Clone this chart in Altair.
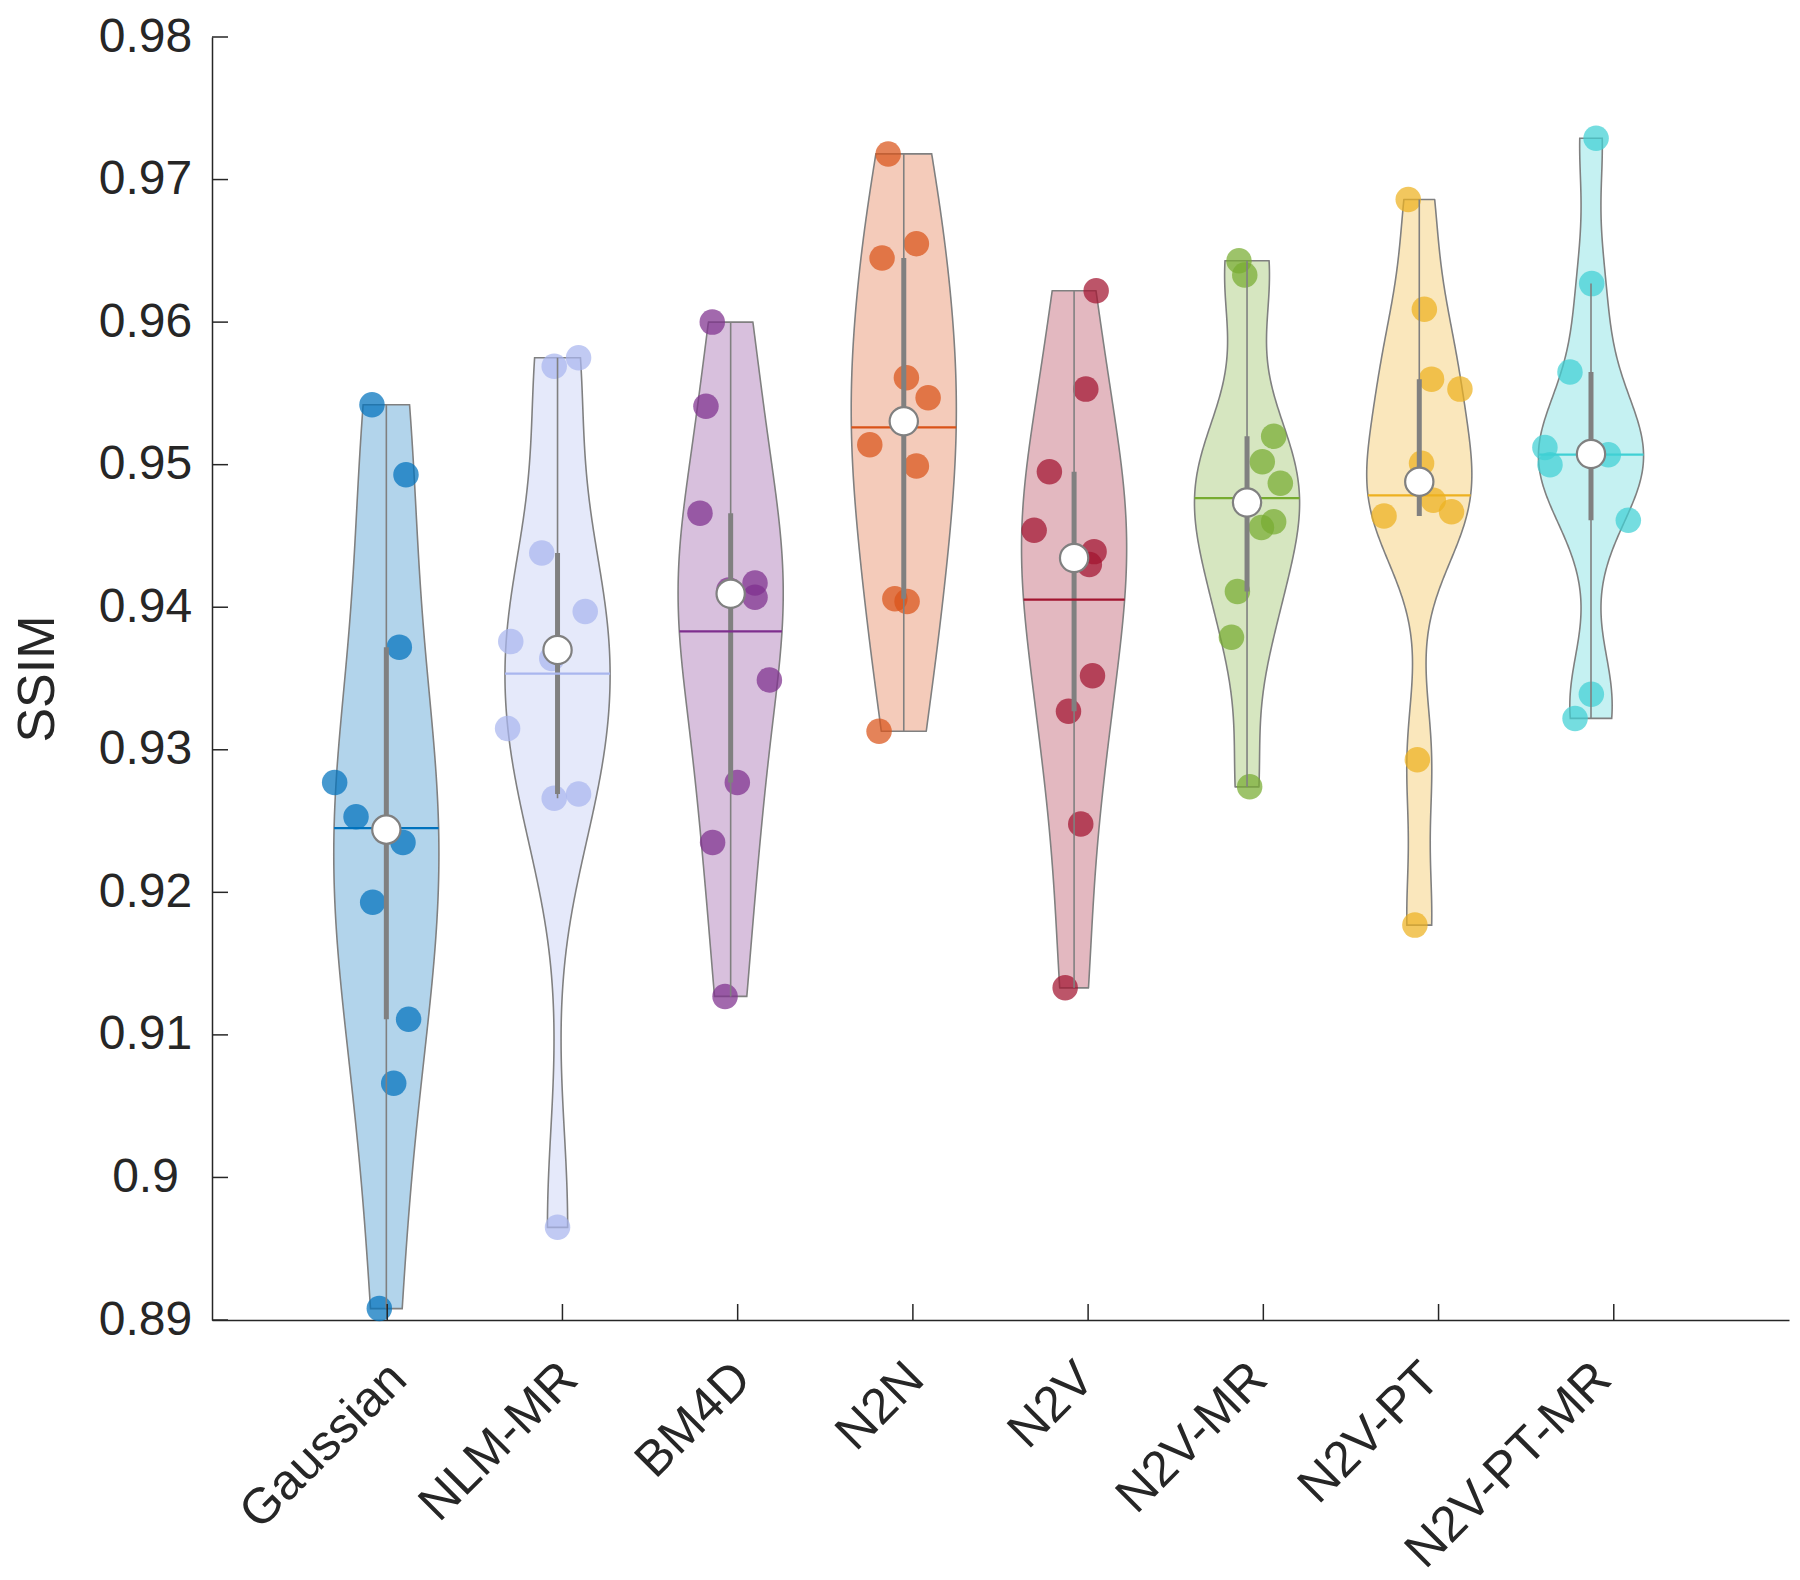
import json
import altair as alt
import pandas as pd

# ---------------- data ----------------
categories = ["Gaussian", "NLM-MR", "BM4D", "N2N", "N2V", "N2V-MR", "N2V-PT", "N2V-PT-MR"]
colors = ["#0072BD", "#A9B6EE", "#7E2F8E", "#D95319", "#A2142F", "#77AC30", "#EDB120", "#40D0D4"]
tick_pos = [1, 2, 3, 4, 5, 6, 7, 8]
violin_pos = [0.995, 1.972, 2.960, 3.948, 4.920, 5.907, 6.890, 7.870]
y_ticks = [0.89, 0.90, 0.91, 0.92, 0.93, 0.94, 0.95, 0.96, 0.97, 0.98]

gaussian = [0.9542, 0.9493, 0.9372, 0.9277, 0.9253, 0.9235, 0.9193, 0.9111, 0.9066, 0.8908]
gaussian_jit = [-0.082, 0.112, 0.074, -0.295, -0.173, 0.095, -0.078, 0.127, 0.042, -0.040]
nlm_mr = [0.9575, 0.9569, 0.9438, 0.9397, 0.9376, 0.9364, 0.9315, 0.9269, 0.9266, 0.8965]
nlm_mr_jit = [0.120, -0.019, -0.090, 0.158, -0.267, -0.033, -0.285, 0.120, -0.019, 0.000]
bm4d = [0.9600, 0.9541, 0.9466, 0.9417, 0.9407, 0.9412, 0.9349, 0.9277, 0.9235, 0.9127]
bm4d_jit = [-0.105, -0.141, -0.175, 0.139, 0.139, -0.010, 0.221, 0.038, -0.103, -0.032]
n2n = [0.9718, 0.9655, 0.9645, 0.9561, 0.9547, 0.9514, 0.9499, 0.9406, 0.9404, 0.9313]
n2n_jit = [-0.089, 0.072, -0.124, 0.015, 0.139, -0.194, 0.072, -0.051, 0.019, -0.141]
n2v = [0.9622, 0.9553, 0.9495, 0.9454, 0.9439, 0.9430, 0.9352, 0.9327, 0.9248, 0.9133]
n2v_jit = [0.126, 0.067, -0.141, -0.228, 0.114, 0.087, 0.105, -0.032, 0.038, -0.051]
n2v_mr = [0.9643, 0.9633, 0.9520, 0.9502, 0.9487, 0.9460, 0.9456, 0.9411, 0.9379, 0.9274]
n2v_mr_jit = [-0.046, -0.013, 0.152, 0.087, 0.190, 0.152, 0.082, -0.055, -0.089, 0.015]
n2v_pt = [0.9686, 0.9609, 0.9560, 0.9553, 0.9501, 0.9475, 0.9467, 0.9464, 0.9293, 0.9177]
n2v_pt_jit = [-0.063, 0.029, 0.070, 0.232, 0.013, 0.080, 0.184, -0.201, -0.011, -0.025]
n2v_pt_mr = [0.9729, 0.9627, 0.9565, 0.9512, 0.9500, 0.9507, 0.9508, 0.9461, 0.9339, 0.9322]
n2v_pt_mr_jit = [0.029, 0.004, -0.120, -0.263, -0.234, 0.099, 0.000, 0.213, 0.002, -0.091]

series = [gaussian, nlm_mr, bm4d, n2n, n2v, n2v_mr, n2v_pt, n2v_pt_mr]
jitters = [gaussian_jit, nlm_mr_jit, bm4d_jit, n2n_jit, n2v_jit, n2v_mr_jit, n2v_pt_jit, n2v_pt_mr_jit]

rows = []
for cat, pos, vals, jits in zip(categories, violin_pos, series, jitters):
    for v, j in zip(vals, jits):
        rows.append({"cat": cat, "pos": pos, "ssim": v, "jit": j})
df = pd.DataFrame(rows)

# ---------------- layout ----------------
W, H = 1577, 1283
FONT = "Liberation Sans"
GREY = "#808080"
AX = "#262626"
STEPS = 1200

xscale = alt.Scale(domain=[0, 9], nice=False, zero=False)
yscale = alt.Scale(domain=[0.89, 0.98], nice=False, zero=False)
cscale = alt.Scale(domain=categories, range=colors)

label_expr = json.dumps(categories) + "[indexof(" + json.dumps(violin_pos) + ", datum.value)]"

xaxis = alt.Axis(values=violin_pos, labelExpr=label_expr, labelAngle=-45, labelAlign="right",
                 labelBaseline="top", labelPadding=33, labelOffset=-6, labelFont=FONT,
                 labelFontSize=50, labelColor=AX, labelOverlap=False, labelFlush=False,
                 labelBound=False, labelLimit=0, ticks=False, tickSize=0, grid=False,
                 domainColor=AX, domainWidth=1.5, title=None)
yaxis = alt.Axis(values=y_ticks, format="~g", labelFont=FONT, labelFontSize=48, labelColor=AX,
                 labelAlign="center", labelPadding=67, labelOverlap=False, labelFlush=False,
                 labelLimit=0, ticks=False, tickSize=0, grid=False, domainColor=AX,
                 domainWidth=1.5, title="SSIM", titleFont=FONT, titleFontSize=52,
                 titleFontWeight="normal", titleColor=AX, titlePadding=34)

base = alt.Chart(df)

dens = (
    base.transform_joinaggregate(mu="mean(ssim)", mn="min(ssim)", mx="max(ssim)", groupby=["cat"])
    .transform_joinaggregate(gmin="min(ssim)", gmax="max(ssim)")
    .transform_density("ssim", groupby=["cat", "pos", "mu", "mn", "mx", "gmin", "gmax"],
                       as_=["v", "dens"], steps=STEPS)
    .transform_calculate(stp=f"(datum.gmax - datum.gmin) / {STEPS - 1}")
    .transform_filter("datum.v >= datum.mn - datum.stp && datum.v <= datum.mx + datum.stp")
    .transform_calculate(vc="clamp(datum.v, datum.mn, datum.mx)")
    .transform_joinaggregate(dmax="max(dens)", groupby=["cat"])
    .transform_calculate(w="0.3 * datum.dens / datum.dmax")
    .transform_calculate(xl="datum.pos - datum.w")
    .transform_calculate(xr="datum.pos + datum.w")
)

violin = dens.mark_area(orient="horizontal", fillOpacity=0.3, stroke=GREY, strokeWidth=1.6).encode(
    y=alt.Y("vc:Q", scale=yscale, axis=yaxis),
    x=alt.X("xl:Q", scale=xscale, axis=xaxis, stack=None),
    x2="xr:Q",
    fill=alt.Fill("cat:N", scale=cscale, legend=None),
    detail="cat:N",
)

meanline = (
    dens.transform_calculate(dist="abs(datum.v - datum.mu)")
    .transform_window(rk="row_number()", sort=[alt.SortField("dist", order="ascending")], groupby=["cat"])
    .transform_filter("datum.rk == 1")
    .mark_rule(strokeWidth=2.2)
    .encode(
        y=alt.Y("mu:Q", scale=yscale, axis=yaxis),
        x=alt.X("xl:Q", scale=xscale, axis=xaxis),
        x2="xr:Q",
        color=alt.Color("cat:N", scale=cscale, legend=None),
    )
)

points = base.transform_calculate(xj="datum.pos + datum.jit").mark_circle(size=650, opacity=0.72).encode(
    x=alt.X("xj:Q", scale=xscale, axis=xaxis),
    y=alt.Y("ssim:Q", scale=yscale, axis=yaxis),
    color=alt.Color("cat:N", scale=cscale, legend=None),
)

stats = (
    base.transform_joinaggregate(n="count()", groupby=["cat"])
    .transform_window(r="row_number()", sort=[alt.SortField("ssim", order="ascending")], groupby=["cat"])
    .transform_calculate(q1c="datum.r == round(datum.n * 0.25 + 0.5) ? datum.ssim : null")
    .transform_calculate(q3c="datum.r == round(datum.n * 0.75 + 0.5) ? datum.ssim : null")
    .transform_joinaggregate(q1="max(q1c)", q3="max(q3c)", groupby=["cat"])
    .transform_calculate(lof="datum.q1 - 1.5 * (datum.q3 - datum.q1)")
    .transform_calculate(hif="datum.q3 + 1.5 * (datum.q3 - datum.q1)")
    .transform_calculate(inlo="datum.ssim > datum.lof ? datum.ssim : null")
    .transform_calculate(inhi="datum.ssim < datum.hif ? datum.ssim : null")
    .transform_aggregate(lo="min(inlo)", hi="max(inhi)", med="median(ssim)",
                         groupby=["cat", "pos", "q1", "q3"])
)

whisker = stats.mark_rule(color=GREY, strokeWidth=1.6).encode(
    x=alt.X("pos:Q", scale=xscale, axis=xaxis),
    y=alt.Y("lo:Q", scale=yscale, axis=yaxis),
    y2="hi:Q",
)
box = stats.mark_rule(color=GREY, strokeWidth=5).encode(
    x=alt.X("pos:Q", scale=xscale, axis=xaxis),
    y=alt.Y("q1:Q", scale=yscale, axis=yaxis),
    y2="q3:Q",
)
median = stats.mark_point(size=800, filled=False, fill="white", fillOpacity=1, stroke=GREY,
                          strokeWidth=2.2, opacity=1, shape="circle").encode(
    x=alt.X("pos:Q", scale=xscale, axis=xaxis),
    y=alt.Y("med:Q", scale=yscale, axis=yaxis),
)

ytick_df = pd.DataFrame({"t": y_ticks})
xtick_df = pd.DataFrame({"t": tick_pos})
yticks = alt.Chart(ytick_df).mark_rule(color=AX, strokeWidth=1.5).encode(
    y=alt.Y("t:Q", scale=yscale, axis=yaxis), x=alt.value(0), x2=alt.value(16)
)
xticks = alt.Chart(xtick_df).mark_rule(color=AX, strokeWidth=1.5).encode(
    x=alt.X("t:Q", scale=xscale, axis=xaxis), y=alt.value(H), y2=alt.value(H - 16)
)

chart = (
    alt.layer(violin, points, whisker, box, meanline, median, yticks, xticks)
    .properties(width=W, height=H, autosize=alt.AutoSizeParams(type="none"),
                padding={"left": 204, "top": 29, "right": 2, "bottom": 260}, background="white")
    .configure_view(stroke=None)
)

chart.save("out.html", embed_options={"renderer": "svg", "actions": False})
